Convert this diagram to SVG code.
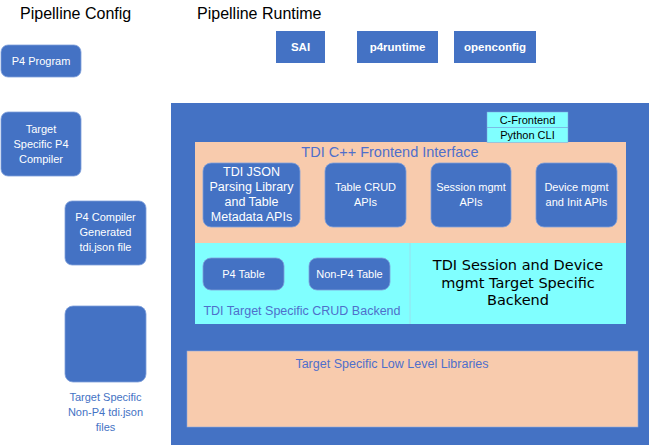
<svg xmlns="http://www.w3.org/2000/svg" width="650" height="446" viewBox="0 0 650 446">
<style>
.title{font-family:"Liberation Sans",Arial,sans-serif;font-size:16px;fill:#000}
.blue{fill:#4472C4}
.rbox{fill:#4472C4;stroke:#7F9FDB;stroke-width:0.8}
.wt{font-family:"Liberation Sans",Arial,sans-serif;font-size:11px;fill:#fff;text-anchor:middle}
.wb{font-family:"Liberation Sans",Arial,sans-serif;font-size:11.5px;font-weight:bold;fill:#fff;text-anchor:middle}
.wa{font-family:"Liberation Sans",Arial,sans-serif;font-size:12.5px;fill:#fff;text-anchor:middle}
.bt{font-family:"Liberation Sans",Arial,sans-serif;font-size:12.5px;fill:#4F6FCB;text-anchor:middle}
.lb{font-family:"Liberation Sans",Arial,sans-serif;font-size:11px;fill:#4472C4;text-anchor:middle}
.kt{font-family:"Liberation Sans",Arial,sans-serif;font-size:11px;fill:#000;text-anchor:middle}
.dv{font-family:"DejaVu Sans",sans-serif;font-size:14.5px;fill:#000;text-anchor:middle}
.peach{fill:#F8CBAD}
.cyan{fill:#80FFFF}
</style>
<text class="title" x="20" y="19">Pipelline Config</text>
<text class="title" x="197" y="19">Pipelline Runtime</text>

<g id="sai"><rect class="blue" x="276" y="31" width="49" height="32"/><text class="wb" x="300.5" y="51">SAI</text></g>
<g id="p4runtime"><rect class="blue" x="357" y="31" width="81" height="32"/><text class="wb" x="397.5" y="51">p4runtime</text></g>
<g id="openconfig"><rect class="blue" x="454" y="31" width="82" height="32"/><text class="wb" x="495" y="51">openconfig</text></g>

<g id="p4program"><rect class="rbox" x="1" y="45" width="80" height="32" rx="7"/><text class="wt" x="41" y="65">P4 Program</text></g>
<g id="compiler"><rect class="rbox" x="1" y="112" width="80" height="64" rx="7"/>
<text class="wt" x="41" y="133">Target</text><text class="wt" x="41" y="148">Specific P4</text><text class="wt" x="41" y="163">Compiler</text></g>
<g id="generated"><rect class="rbox" x="65" y="201" width="81" height="64" rx="7"/>
<text class="wt" x="105.5" y="221">P4 Compiler</text><text class="wt" x="105.5" y="236">Generated</text><text class="wt" x="105.5" y="251">tdi.json file</text></g>
<g id="nonp4json"><rect class="rbox" x="65" y="306" width="81" height="76" rx="8"/>
<text class="lb" x="105.5" y="401">Target Specific</text><text class="lb" x="105.5" y="416">Non-P4 tdi.json</text><text class="lb" x="105.5" y="431">files</text></g>

<g id="runtime">
<rect class="blue" x="171" y="103" width="478" height="342"/>
<rect class="peach" x="195" y="142" width="431" height="101"/>
<text x="390" y="157" style="font-family:'Liberation Sans',Arial,sans-serif;font-size:14.5px;fill:#4F6FCB;text-anchor:middle">TDI C++ Frontend Interface</text>
<g id="cfrontend"><rect class="cyan" x="487" y="112" width="81" height="15.5" stroke="#7F9FDB" stroke-width="0.5"/><text class="kt" x="527.5" y="124">C-Frontend</text></g>
<g id="pythoncli"><rect class="cyan" x="487" y="127.5" width="81" height="15" stroke="#7F9FDB" stroke-width="0.5"/><text class="kt" x="527.5" y="139">Python CLI</text></g>
<g id="tdijson"><rect class="rbox" x="203" y="163" width="97" height="64" rx="8"/>
<text class="wa" x="251.5" y="176">TDI JSON</text><text class="wa" x="251.5" y="191">Parsing Library</text><text class="wa" x="251.5" y="206">and Table</text><text class="wa" x="251.5" y="221">Metadata APIs</text></g>
<g id="tablecrud"><rect class="rbox" x="325" y="163" width="81" height="64" rx="8"/>
<text class="wt" x="365.5" y="191">Table CRUD</text><text class="wt" x="365.5" y="206">APIs</text></g>
<g id="session"><rect class="rbox" x="431" y="163" width="80" height="64" rx="8"/>
<text class="wt" x="471" y="191">Session mgmt</text><text class="wt" x="471" y="206">APIs</text></g>
<g id="device"><rect class="rbox" x="536" y="163" width="81" height="64" rx="8"/>
<text class="wt" x="576.5" y="191">Device mgmt</text><text class="wt" x="576.5" y="206">and Init APIs</text></g>
<rect class="cyan" x="195" y="243" width="431" height="81"/>
<line x1="410" y1="243" x2="410" y2="324" stroke="#9FD8E8" stroke-width="0.8"/>
<g id="p4table"><rect class="rbox" x="203" y="258" width="81" height="32" rx="8"/><text class="wt" x="243.5" y="278">P4 Table</text></g>
<g id="nonp4table"><rect class="rbox" x="309" y="258" width="81" height="32" rx="8"/><text class="wt" x="349.5" y="278">Non-P4 Table</text></g>
<text class="bt" x="302" y="315">TDI Target Specific CRUD Backend</text>
<g id="sessionbackend"><text class="dv" x="518" y="270">TDI Session and Device</text><text class="dv" x="518" y="288">mgmt Target Specific</text><text class="dv" x="518" y="305">Backend</text></g>
<g id="lowlevel"><rect class="peach" x="187" y="351" width="451" height="76" stroke="#8FAADC" stroke-width="0.6"/>
<text class="bt" x="392" y="368">Target Specific Low Level Libraries</text></g>
</g>
<g id="connectors"></g>
</svg>
